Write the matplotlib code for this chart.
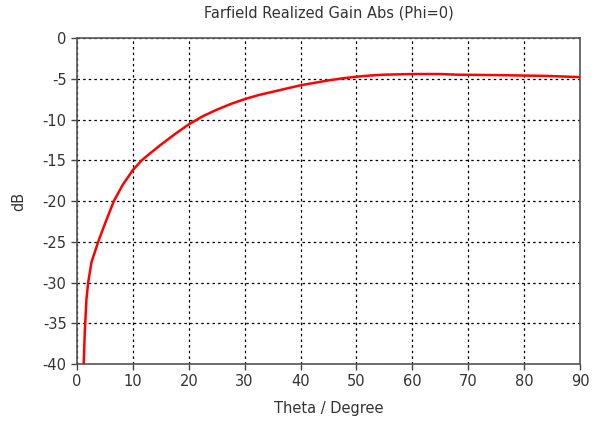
import matplotlib
matplotlib.use('Agg')
import matplotlib.pyplot as plt

# Theta (deg) and realized gain (dB)
theta = [1.2, 1.4, 1.7, 2.0, 2.6, 3.8, 5.0, 6.6, 8.2, 10, 11.6, 13, 15,
         17.5, 20, 22.5, 25, 27.5, 30, 32.5, 35, 37.5, 40, 42.5, 45, 47.5,
         50, 52.5, 55, 60, 65, 68, 75, 84, 90]
gain = [-40, -36, -32, -30, -27.5, -25, -22.8, -20, -18, -16.2, -15, -14.2,
        -13.1, -11.8, -10.6, -9.6, -8.8, -8.1, -7.5, -7.0, -6.6, -6.2, -5.8,
        -5.5, -5.2, -4.95, -4.75, -4.6, -4.5, -4.42, -4.42, -4.5, -4.55,
        -4.65, -4.8]

xticks = list(range(0, 91, 10))
yticks = list(range(-40, 1, 5))

text_color = '#333333'
plt.rcParams['font.family'] = ['DejaVu Sans']
plt.rcParams['axes.unicode_minus'] = False

fig = plt.figure(figsize=(5.94, 4.21), dpi=100)
ax = fig.add_axes([0.1296, 0.1354, 0.8468, 0.7743])

ax.plot(theta, gain, color='#ff0000', linewidth=1.8, zorder=3)

ax.set_xlim(0, 90)
ax.set_ylim(-40, 0)
ax.set_xticks(xticks)
ax.set_yticks(yticks)
ax.tick_params(direction='out', length=4, width=1, colors='#444444',
               labelcolor=text_color, labelsize=10.5)
ax.grid(True, color='black', linestyle=(0, (2, 2.5)), linewidth=0.9)

for s in ax.spines.values():
    s.set_color('#555555')
    s.set_linewidth(1.2)

ax.set_title('Farfield Realized Gain Abs (Phi=0)', fontsize=10.5,
             color=text_color, pad=15)
ax.set_xlabel('Theta / Degree', fontsize=10.5, color=text_color, labelpad=8)
ax.set_ylabel('dB', fontsize=10.5, color=text_color, labelpad=12)

plt.savefig('out.png', dpi=100)
